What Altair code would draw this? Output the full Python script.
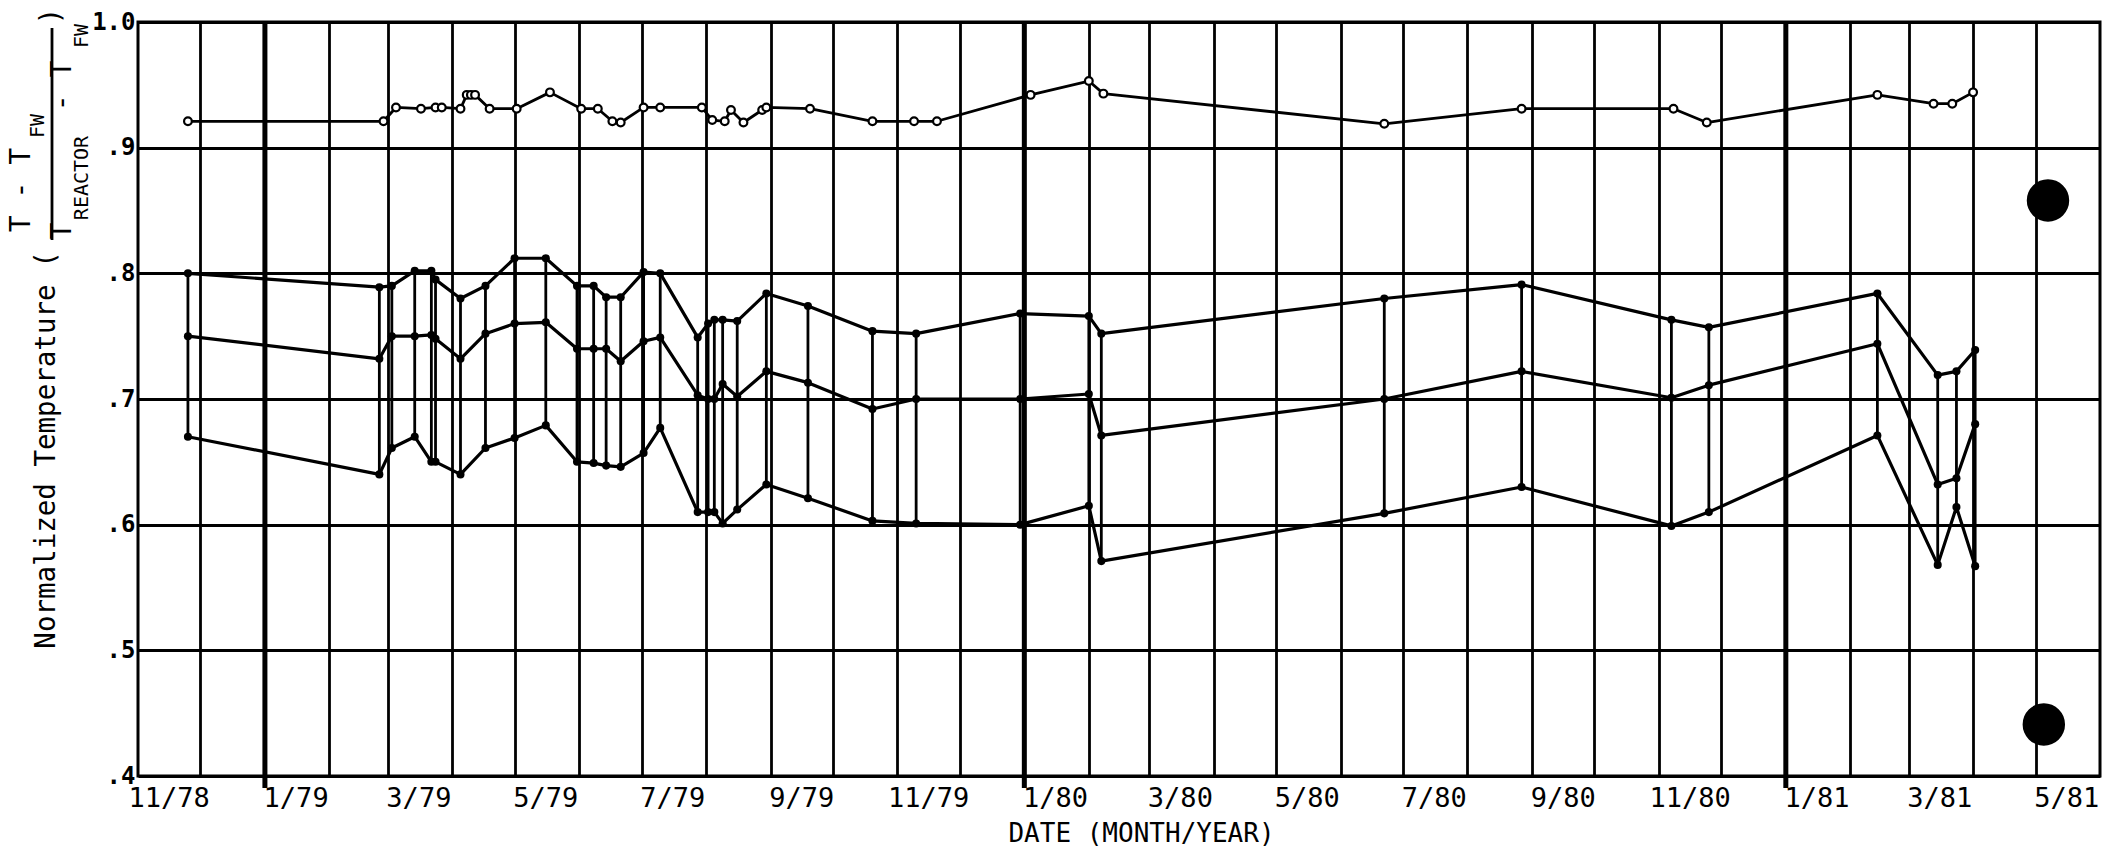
import altair as alt
import pandas as pd

# ---------------- data ----------------
# three-curve band (upper / middle / lower filled-dot curves)
band_dates = [
    "1978-11-25", "1979-02-25", "1979-03-03", "1979-03-14", "1979-03-22", "1979-03-24",
    "1979-04-05", "1979-04-17", "1979-05-01", "1979-05-16", "1979-05-31", "1979-06-08",
    "1979-06-14", "1979-06-21", "1979-07-02", "1979-07-10", "1979-07-28", "1979-08-02",
    "1979-08-05", "1979-08-09", "1979-08-16", "1979-08-30", "1979-09-19", "1979-10-20",
    "1979-11-10", "1979-12-30", "1980-02-01", "1980-02-07", "1980-06-22", "1980-08-27",
    "1980-11-07", "1980-11-25", "1981-02-14", "1981-03-15", "1981-03-24", "1981-04-02",
]
upper_vals = [
    0.800, 0.789, 0.790, 0.802, 0.802, 0.795,
    0.780, 0.790, 0.812, 0.812, 0.790, 0.790,
    0.781, 0.781, 0.801, 0.800, 0.749, 0.760,
    0.763, 0.763, 0.762, 0.784, 0.774, 0.754,
    0.752, 0.768, 0.766, 0.752, 0.780, 0.791,
    0.763, 0.757, 0.784, 0.719, 0.722, 0.739,
]
middle_vals = [
    0.750, 0.732, 0.750, 0.750, 0.751, 0.748,
    0.732, 0.752, 0.760, 0.761, 0.740, 0.740,
    0.740, 0.730, 0.746, 0.749, 0.703, 0.700,
    0.700, 0.712, 0.702, 0.722, 0.713, 0.692,
    0.700, 0.700, 0.704, 0.671, 0.700, 0.722,
    0.701, 0.711, 0.744, 0.632, 0.637, 0.680,
]
lower_vals = [
    0.670, 0.640, 0.661, 0.670, 0.650, 0.650,
    0.640, 0.661, 0.669, 0.679, 0.650, 0.649,
    0.647, 0.646, 0.657, 0.677, 0.610, 0.610,
    0.610, 0.601, 0.612, 0.632, 0.621, 0.603,
    0.601, 0.600, 0.615, 0.571, 0.609, 0.630,
    0.599, 0.610, 0.671, 0.568, 0.614, 0.567,
]

# top curve (open circles)
top_dates = [
    "1978-11-25", "1979-02-27", "1979-03-05", "1979-03-17", "1979-03-24", "1979-03-27",
    "1979-04-05", "1979-04-08", "1979-04-10", "1979-04-12", "1979-04-19", "1979-05-02",
    "1979-05-18", "1979-06-02", "1979-06-10", "1979-06-17", "1979-06-21", "1979-07-02",
    "1979-07-10", "1979-07-30", "1979-08-04", "1979-08-10", "1979-08-13", "1979-08-19",
    "1979-08-28", "1979-08-30", "1979-09-20", "1979-10-20", "1979-11-09", "1979-11-20",
    "1980-01-04", "1980-02-01", "1980-02-08", "1980-06-22", "1980-08-27", "1980-11-08",
    "1980-11-24", "1981-02-14", "1981-03-13", "1981-03-22", "1981-04-01",
]
top_vals = [
    0.921, 0.921, 0.932, 0.931, 0.932, 0.932,
    0.931, 0.942, 0.942, 0.942, 0.931, 0.931,
    0.944, 0.931, 0.931, 0.921, 0.920, 0.932,
    0.932, 0.932, 0.922, 0.921, 0.930, 0.920,
    0.930, 0.932, 0.931, 0.921, 0.921, 0.921,
    0.942, 0.953, 0.943, 0.919, 0.931, 0.931,
    0.920, 0.942, 0.935, 0.935, 0.944,
]

# tick labels (placed mid-month, as in the original)
month_label_dates = [
    "1978-11-16", "1979-01-16", "1979-03-16", "1979-05-16", "1979-07-16", "1979-09-16",
    "1979-11-16", "1980-01-16", "1980-03-16", "1980-05-16", "1980-07-16", "1980-09-16",
    "1980-11-16", "1981-01-16", "1981-03-16", "1981-05-16",
]
month_label_text = [
    "11/78", "1/79", "3/79", "5/79", "7/79", "9/79",
    "11/79", "1/80", "3/80", "5/80", "7/80", "9/80",
    "11/80", "1/81", "3/81", "5/81",
]
year_lines = ["1979-01-01", "1980-01-01", "1981-01-01"]
y_ticks = [0.4, 0.5, 0.6, 0.7, 0.8, 0.9, 1.0]

# binder punch holes visible on the scanned page
punch_dates = ["1981-05-07", "1981-05-05"]
punch_vals = [0.858, 0.441]

# ---------------- chart ----------------
FONT = "DejaVu Sans Mono"
W, H = 1962, 754

grid_months = pd.date_range("1978-12-01", "1981-05-01", freq="MS")

XS = alt.Scale(
    type="utc",
    domain=[alt.DateTime(year=1978, month=11, date=1, utc=True),
            alt.DateTime(year=1981, month=6, date=1, utc=True)],
)
YS = alt.Scale(domain=[0.4, 1.0], nice=False, zero=False)

XAXIS = alt.Axis(
    values=[alt.DateTime(year=int(d.year), month=int(d.month), date=1, utc=True) for d in grid_months],
    grid=True, gridColor="black", gridWidth=2.8, gridOpacity=1,
    labels=False, ticks=False, domain=False,
    title="DATE (MONTH/YEAR)", titleFont=FONT, titleFontSize=26, titleFontWeight="normal",
    titleColor="black", titleX=1003, titleY=57, titleAlign="center", titleBaseline="middle",
)
YAXIS = alt.Axis(
    values=y_ticks,
    grid=True, gridColor="black", gridWidth=3, gridOpacity=1,
    ticks=False, domain=False,
    labelExpr="datum.value >= 1 ? '1.0' : replace(format(datum.value, '.1f'), '0.', '.')",
    labelFont=FONT, labelFontSize=24, labelFontWeight="bold", labelColor="black", labelPadding=3,
    title=None,
)


def X(field):
    return alt.X(field, type="temporal", scale=XS, axis=XAXIS)


def Y(field):
    return alt.Y(field, type="quantitative", scale=YS, axis=YAXIS)


df_band = pd.DataFrame({"date": band_dates, "hi": upper_vals, "mid": middle_vals, "lo": lower_vals})
df_long = pd.concat([
    pd.DataFrame({"date": band_dates, "value": upper_vals, "series": "upper"}),
    pd.DataFrame({"date": band_dates, "value": middle_vals, "series": "middle"}),
    pd.DataFrame({"date": band_dates, "value": lower_vals, "series": "lower"}),
])
df_top = pd.DataFrame({"date": top_dates, "value": top_vals})
df_labels = pd.DataFrame({"date": month_label_dates, "t": month_label_text})
df_years = pd.DataFrame({"date": year_lines})
df_punch = pd.DataFrame({"date": punch_dates, "value": punch_vals})

years = alt.Chart(df_years).mark_rule(color="black", strokeWidth=5).encode(
    x=X("date"), y=alt.value(0), y2=alt.value(H + 12)
)
bars = alt.Chart(df_band).mark_rule(color="black", strokeWidth=2.8).encode(
    x=X("date"), y=Y("lo"), y2="hi"
)
lines = alt.Chart(df_long).mark_line(color="black", strokeWidth=3.2, strokeJoin="round").encode(
    x=X("date"), y=Y("value"), detail="series:N"
)
dots = alt.Chart(df_long).mark_point(filled=True, color="black", size=65, opacity=1).encode(
    x=X("date"), y=Y("value")
)
top_line = alt.Chart(df_top).mark_line(color="black", strokeWidth=2.8, strokeJoin="round").encode(
    x=X("date"), y=Y("value")
)
top_pts = alt.Chart(df_top).mark_point(
    shape="circle", filled=True, fill="white", stroke="black", strokeWidth=2.2, size=60, opacity=1
).encode(x=X("date"), y=Y("value"))
punch = alt.Chart(df_punch).mark_circle(color="black", size=1800, opacity=1).encode(
    x=X("date"), y=Y("value")
)
xlabels = alt.Chart(df_labels).mark_text(
    font=FONT, fontSize=27, color="black", align="center", baseline="middle"
).encode(x=X("date"), y=alt.value(H + 23), text="t:N")


def note(text, x, y, size, angle=270):
    return alt.Chart(alt.Data(values=[{"t": text}])).mark_text(
        font=FONT, fontSize=size, angle=angle, align="center", baseline="middle", color="black"
    ).encode(text="t:N", x=alt.value(x), y=alt.value(y))


frac_bar = alt.Chart(alt.Data(values=[{"t": 0}])).mark_rule(color="black", strokeWidth=2.8).encode(
    x=alt.value(-86), y=alt.value(6), y2=alt.value(218)
)

ytitle = [
    note("Normalized Temperature (", -91, 428, 27.5),
    note("T - T", -116, 168, 28),
    note("FW", -100, 104, 20),
    note("T", -75, 209, 28),
    note("REACTOR", -56, 156, 20),
    note("- T", -75, 64, 28),
    note("FW", -56, 14, 20),
    note(")", -86, -6, 28),
    frac_bar,
]

chart = alt.layer(
    years, bars, lines, dots, top_line, top_pts, punch, xlabels, *ytitle
).properties(
    width=W, height=H,
    autosize=alt.AutoSizeParams(type="none"),
    padding={"left": 138, "top": 22, "right": 5, "bottom": 81},
    background="white",
).configure_view(stroke="black", strokeWidth=3)

chart.save("out.html", embed_options={"renderer": "svg", "actions": False})
